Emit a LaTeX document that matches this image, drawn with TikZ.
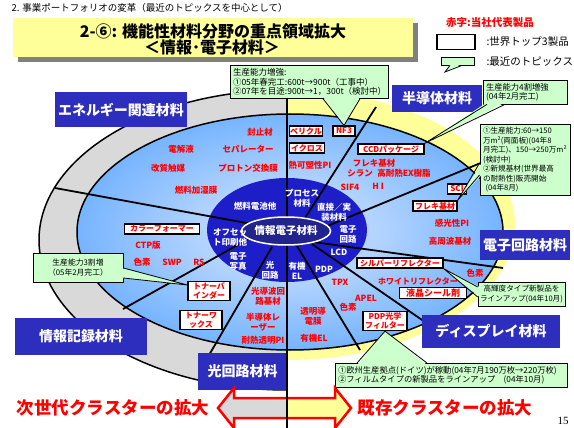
\documentclass[tikz,border=0pt]{standalone}
\usepackage{fontspec}
\setmainfont{Noto Sans CJK JP}
\newfontfamily\serifnum{Liberation Serif}
\usetikzlibrary{shapes.geometric,calc}

\definecolor{catblue}{RGB}{45,45,190}
\definecolor{ringgray}{RGB}{217,217,217}
\definecolor{ringyellow}{RGB}{255,255,153}
\definecolor{callgreen}{RGB}{204,255,204}
\definecolor{skyblue}{RGB}{40,140,255}
\definecolor{paleblue}{RGB}{180,212,255}
\definecolor{coreblue}{RGB}{30,30,200}
\definecolor{centerblue}{RGB}{35,35,140}
\definecolor{labelred}{RGB}{255,0,0}
\definecolor{shadowgray}{RGB}{128,128,128}
\pgfdeclareradialshading{bluedisc}{\pgfpoint{0bp}{0bp}}{color(0bp)=(paleblue); color(10bp)=(paleblue); color(44bp)=(skyblue); color(80bp)=(skyblue)}

\begin{document}
\begin{tikzpicture}[
    x=1pt, y=-1pt,
    catbox/.style = {rectangle, fill=catblue, text=white, font=\bfseries\fontsize{14}{14}\selectfont, inner sep=0pt},
    redlbl/.style = {text=labelred, font=\bfseries\fontsize{8.5}{9.8}\selectfont, align=center, inner sep=0pt},
    topbox/.style = {rectangle, draw, line width=1.2pt, fill=white, text=labelred, font=\bfseries\fontsize{8}{9.5}\selectfont, align=center, inner sep=1pt, minimum height=10pt},
    corelbl/.style = {text=white, font=\bfseries\fontsize{8.5}{10}\selectfont, align=center, inner sep=0pt},
    callout/.style = {rectangle, draw, line width=0.8pt, fill=callgreen, font=\fontsize{8.5}{9.3}\selectfont, inner sep=3pt},
    pointer/.style = {draw, line width=0.8pt},
    spoke/.style = {draw, line width=1.8pt},
    bigarrow/.style = {draw=labelred, line width=2.5pt, line join=miter},
    bigtext/.style = {text=labelred, font=\bfseries\fontsize{17.5}{18}\selectfont}
]
\useasboundingbox (0,0) rectangle (574,428);
\fill[white] (0,0) rectangle (574,428);

\node[anchor=west, font=\fontsize{9.5}{10}\selectfont] (header) at (8,8) {2. 事業ポートフォリオの変革（最近のトピックスを中心として）};
\fill[shadowgray] (18,23) rectangle (418,62);
\fill[ringyellow] (13,18) rectangle (413,57);
\node[font=\bfseries\fontsize{16}{16}\selectfont] (title1) at (213,31) {2-⑥: 機能性材料分野の重点領域拡大};
\node[font=\bfseries\fontsize{16}{16}\selectfont] (title2) at (212,47) {＜情報･電子材料＞};

\node[text=labelred, font=\bfseries\fontsize{10.5}{11}\selectfont] (legnote) at (490,23) {赤字:当社代表製品};
\node[draw, line width=1.4pt, fill=white, minimum width=38pt, minimum height=15pt, inner sep=0pt] (legtop) at (456,42) {};
\node[anchor=west, font=\fontsize{10.5}{11}\selectfont] (legtoptext) at (483,42) {:世界トップ3製品};
\coordinate (legtip) at (445,72);
\node[callout, minimum width=33pt, minimum height=8pt, inner sep=0pt] (legtopic) at (458,61) {};
\fill[callgreen] ([xshift=-8pt,yshift=1.5pt]legtopic.south) -- (legtip) -- ([xshift=4pt,yshift=1.5pt]legtopic.south) -- cycle;
\draw[pointer] ([xshift=-8pt]legtopic.south) -- (legtip) -- ([xshift=4pt]legtopic.south);
\node[anchor=west, font=\fontsize{10.5}{11}\selectfont] (legtopictext) at (483,62) {:最近のトピックス};

\begin{scope}
  \clip (0,0) rectangle (287,428);
  \filldraw[fill=ringgray, draw=black, line width=1.5pt] (287,240) ellipse [x radius=248pt, y radius=150pt];
\end{scope}
\begin{scope}
  \clip (287,0) rectangle (574,428);
  \fill[ringyellow] (287,225) ellipse [x radius=228pt, y radius=135pt];
\end{scope}
\shadedraw[shading=bluedisc, line width=1.5pt] (290,232) ellipse [x radius=213pt, y radius=118pt];
\fill[coreblue] (287,230) ellipse [x radius=80pt, y radius=52pt];

\draw[spoke] (252,224) -- (55,188);
\draw[spoke] (252,237) -- (123,309);
\draw[spoke] (272,247) -- (205,362);
\draw[spoke] (297,246) -- (360,350);
\draw[spoke] (312,244) -- (425,322);
\draw[spoke] (313,242) -- (503,268);
\draw[spoke] (320,229) -- (488,160);
\draw[spoke] (305,218) -- (376,107);
\draw[spoke] (287,90) -- (287,428);

\node[ellipse, draw=white, line width=1.5pt, fill=centerblue, minimum width=72pt, minimum height=28pt, inner sep=0pt, text=white, font=\bfseries\fontsize{10.5}{11}\selectfont] (core) at (286,231) {情報電子材料};

\node[corelbl] (fuelcell) at (255,206) {燃料電池他};
\node[corelbl] (process) at (302,198) {プロセス\\材料};
\node[corelbl] (mounting) at (334,212) {直接／実\\装材料};
\node[corelbl] (circuit) at (348,234) {電子\\回路};
\node[corelbl] (lcd) at (339,252) {LCD};
\node[corelbl] (pdp) at (324,269) {PDP};
\node[corelbl] (oled) at (297,271) {有機\\EL};
\node[corelbl] (optic) at (270,270) {光\\回路};
\node[corelbl] (ephoto) at (238,261) {電子\\写真};
\node[corelbl] (offset) at (230,237) {オフセッ\\ト印刷他};

\node[redlbl] (sealer) at (260,132) {封止材};
\node[redlbl] (electrolyte) at (181,149) {電解液};
\node[redlbl] (separator) at (248,149) {セパレーター};
\node[redlbl] (reformcat) at (168,168) {改質触媒};
\node[redlbl] (pem) at (248,168) {プロトン交換膜};
\node[redlbl] (humidmem) at (196,190) {燃料加湿膜};

\node[topbox, minimum width=33pt] (pellicle) at (306,131) {ペリクル};
\node[topbox, minimum width=22pt] (nf3) at (344,131) {NF3};
\node[topbox, minimum width=35pt] (icros) at (307,148) {イクロス};
\node[redlbl] (tpi) at (310,165) {熱可塑性PI};

\node[redlbl] (flexred) at (374,163) {フレキ基材};
\node[redlbl] (silane) at (360,173) {シラン};
\node[redlbl] (heatex) at (404,173) {高耐熱EX樹脂};
\node[redlbl] (sif4) at (350,187) {SIF4};
\node[redlbl] (hi) at (378,186) {H\ I};
\node[topbox, minimum width=66pt] (ccd) at (391,149) {CCDパッケージ};

\node[topbox, minimum width=19pt] (sci) at (457,189) {SCI};
\node[topbox, minimum width=44pt] (flexbox) at (435,206) {フレキ基材};
\node[redlbl] (photopi) at (452,223) {感光性PI};
\node[redlbl] (hfsub) at (450,241) {高周波基材};

\node[topbox, minimum width=86pt] (silver) at (400,263) {シルバーリフレクター};
\node[redlbl, font=\bfseries\fontsize{8}{9}\selectfont] (whiteref) at (418,281) {ホワイトリフレクター};
\node[redlbl] (dyeb) at (475,273) {色素};
\node[topbox, minimum width=67pt, font=\bfseries\fontsize{9}{10}\selectfont] (lcseal) at (433,293) {液晶シール剤};

\node[redlbl] (tpx) at (340,282) {TPX};
\node[redlbl] (apel) at (366,298) {APEL};
\node[redlbl] (dyec) at (348,307) {色素};
\node[topbox, minimum width=44pt] (pdpfilter) at (385,321) {PDP光学\\フィルター};

\node[redlbl] (tcf) at (313,316) {透明導\\電膜};
\node[redlbl] (oledred) at (314,338) {有機EL};

\node[redlbl] (waveguide) at (268,296) {光導波回\\路基材};
\node[redlbl] (laser) at (263,322) {半導体レ\\ーザー};
\node[redlbl] (htpi) at (263,340) {耐熱透明PI};

\node[topbox, minimum width=42pt] (tonerbind) at (209,291) {トナーバ\\インダー};
\node[topbox, minimum width=42pt] (tonerwax) at (201,320) {トナーワ\\ックス};

\node[topbox, minimum width=75pt] (colorform) at (162,229) {カラーフォーマー};
\node[redlbl] (ctp) at (148,245) {CTP版};
\node[redlbl] (dyea) at (142,262) {色素};
\node[redlbl] (swp) at (172,262) {SWP};
\node[redlbl] (rs) at (199,262) {RS};

\node[catbox, minimum width=132pt, minimum height=35pt] (energy) at (121,110) {エネルギー関連材料};
\node[catbox, minimum width=90pt, minimum height=27pt] (semi) at (437,98.5) {半導体材料};
\node[catbox, minimum width=90pt, minimum height=30pt] (ecircuit) at (525,245) {電子回路材料};
\node[catbox, minimum width=138pt, minimum height=33pt] (display) at (491,331.5) {ディスプレイ材料};
\node[catbox, minimum width=89pt, minimum height=37pt] (optcircuit) at (242.5,371.5) {光回路材料};
\node[catbox, minimum width=132pt, minimum height=37pt] (record) at (81,336.5) {情報記録材料};

\node[callout, text width=152pt, align=left] (capA) at (309,82) {生産能力増強:\\①05年春完工:600t→900t（工事中）\\②07年を目途:900t→1，300t（検討中）};
\fill[callgreen] ([xshift=14pt,yshift=2pt]capA.south) -- (nf3.north) -- ([xshift=51pt,yshift=2pt]capA.south) -- cycle;
\draw[pointer] ([xshift=14pt]capA.south) -- (nf3.north) -- ([xshift=51pt]capA.south);

\node[callout, text width=78pt, align=left, font=\fontsize{8.3}{9.3}\selectfont] (capB) at (525,92) {生産能力4割増強\\(04年2月完工)};
\fill[callgreen] ([xshift=-38pt,yshift=2pt]capB.south) -- (ccd.north east) -- ([xshift=-20pt,yshift=2pt]capB.south) -- cycle;
\draw[pointer] ([xshift=-38pt]capB.south) -- (ccd.north east) -- ([xshift=-20pt]capB.south);

\node[callout, text width=84pt, align=left, font=\fontsize{7.6}{9.5}\selectfont] (capC) at (525,160) {①生産能力:60→150\\万m²(両面板)(04年8\\月完工)、150→250万m²\\(検討中)\\②新規基材(世界最高\\の耐熱性)販売開始\\\ (04年8月)};
\fill[callgreen] ([xshift=2pt,yshift=-3pt]capC.west) -- (flexbox.north east) -- ([xshift=2pt,yshift=-15pt]capC.west) -- cycle;
\draw[pointer] ([yshift=-3pt]capC.west) -- (flexbox.north east) -- ([yshift=-15pt]capC.west);

\node[callout, align=center, minimum width=90pt, minimum height=29pt, font=\fontsize{7.8}{10}\selectfont] (capD) at (78,267.5) {生産能力3割増\\（05年2月完工）};
\fill[callgreen] ([xshift=-2pt,yshift=-0.5pt]capD.east) -- ([yshift=6pt]tonerbind.west) -- ([xshift=-2pt,yshift=-10.5pt]capD.east) -- cycle;
\draw[pointer] ([yshift=-0.5pt]capD.east) -- ([yshift=6pt]tonerbind.west) -- ([yshift=-10.5pt]capD.east);

\node[callout, align=center, minimum width=83pt, minimum height=24pt, inner sep=2pt, font=\fontsize{7.6}{9.5}\selectfont] (capE) at (521.5,294) {高輝度タイプ新製品を\\ラインアップ(04年10月)};
\fill[callgreen] ([xshift=2pt,yshift=7pt]capE.west) -- (silver.south east) -- ([xshift=2pt,yshift=-3pt]capE.west) -- cycle;
\draw[pointer] ([yshift=7pt]capE.west) -- (silver.south east) -- ([yshift=-3pt]capE.west);

\node[callout, text width=226pt, align=left, font=\fontsize{8.3}{9.5}\selectfont] (capF) at (451,375.5) {①欧州生産拠点(ドイツ)が稼動(04年7月190万枚→220万枚)\\②フィルムタイプの新製品をラインアップ　(04年10月)};
\fill[callgreen] ([xshift=-94pt,yshift=-2pt]capF.north) -- (pdpfilter.south) -- ([xshift=-24pt,yshift=-2pt]capF.north) -- cycle;
\draw[pointer] ([xshift=-94pt]capF.north) -- (pdpfilter.south) -- ([xshift=-24pt]capF.north);

\filldraw[bigarrow, fill=ringgray] (287,398) -- (234,398) -- (234,388) -- (218,408) -- (234,428) -- (234,418) -- (287,418);
\filldraw[bigarrow, fill=ringyellow] (287,398) -- (335,398) -- (335,388) -- (351,408) -- (335,428) -- (335,418) -- (287,418);
\draw[spoke] (287,345) -- (287,428);
\node[bigtext] (nextgen) at (113,408) {次世代クラスターの拡大};
\node[bigtext] (existing) at (445,408) {既存クラスターの拡大};

\node[font=\serifnum\fontsize{11}{11}\selectfont] (pageno) at (563,421) {15};
\end{tikzpicture}
\end{document}
